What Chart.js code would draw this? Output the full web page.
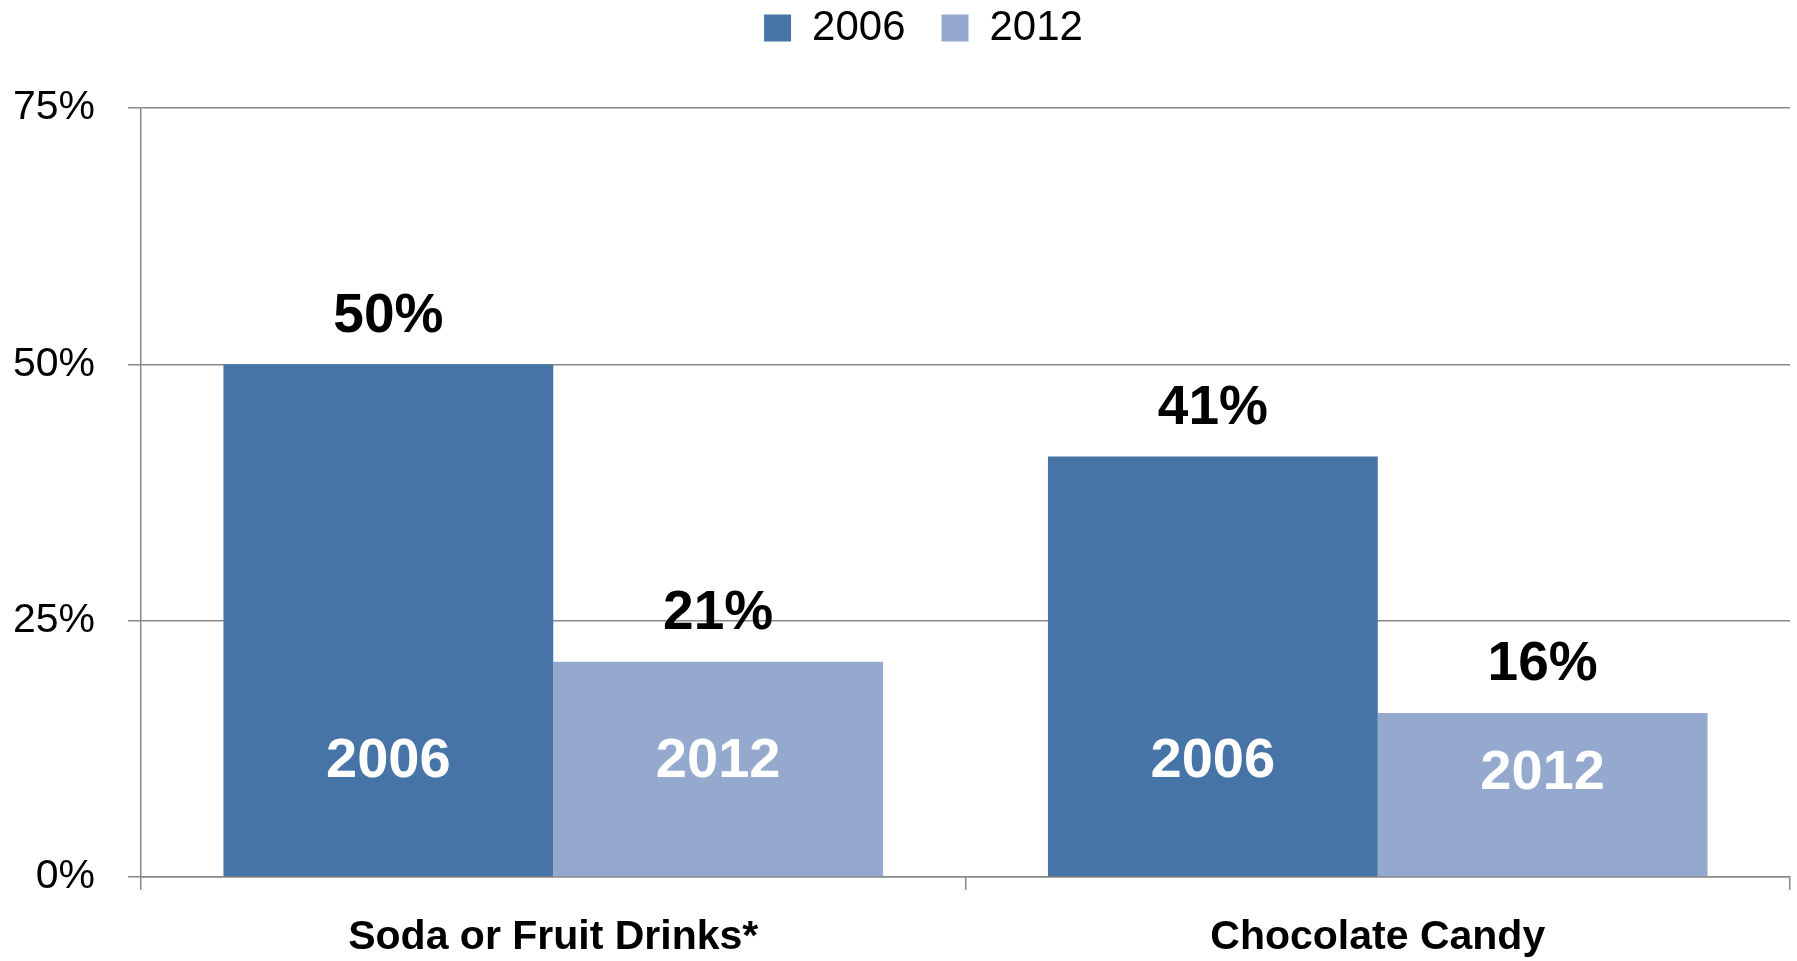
<!DOCTYPE html>
<html>
<head>
<meta charset="utf-8">
<title>Soda and candy, 2006 vs 2012</title>
<script src="https://cdn.jsdelivr.net/npm/chart.js@4/dist/chart.umd.min.js"></script>
<style>
	body { margin: 0; background: #fff; }
	canvas { display: block; }
</style>
</head>
<body>
<canvas id="myChart" width="1797" height="961"></canvas>
<script>
const categories = ['Soda or Fruit Drinks*', 'Chocolate Candy'];
const years = ['2006', '2012'];
const share2006 = [50, 41];
const share2012 = [21, 16];
const yTicks = [0, 25, 50, 75];

const colors = ['#4674a7', '#95a9cf'];
const fontFamily = '"Liberation Sans", Arial, sans-serif';
const gridColor = '#888888';

// extra room under the legend before the plot starts, and nudge it right a bit
const legendMargin = {
	id: 'legendMargin',
	beforeInit(chart) {
		const fit = chart.legend.fit;
		chart.legend.fit = function () {
			fit.bind(chart.legend)();
			this.height += 49;
		};
	},
	afterLayout(chart) {
		chart.legend.left += 22;
		chart.legend.right += 22;
	}
};

// value above each bar, series name inside near its base
const barLabels = {
	id: 'barLabels',
	afterDatasetsDraw(chart) {
		const ctx = chart.ctx;
		ctx.save();
		ctx.textAlign = 'center';
		ctx.textBaseline = 'middle';
		chart.data.datasets.forEach((ds, i) => {
			chart.getDatasetMeta(i).data.forEach((bar, j) => {
				ctx.fillStyle = '#000';
				ctx.font = 'bold 55px ' + fontFamily;
				ctx.fillText(ds.data[j] + '%', bar.x, bar.y - 48);

				ctx.fillStyle = '#fff';
				ctx.font = 'bold 56px ' + fontFamily;
				let y = Math.max(bar.base - 115, bar.y + 61);
				ctx.fillText(ds.label, bar.x, y);
			});
		});
		ctx.restore();
	}
};

let chartJson = {
	type: 'bar',
	data: {
		labels: categories,
		datasets: [{
			label: years[0],
			data: share2006,
			backgroundColor: colors[0]
		}, {
			label: years[1],
			data: share2012,
			backgroundColor: colors[1]
		}]
	},
	options: {
		responsive: false,
		animation: false,
		barPercentage: 1,
		categoryPercentage: 0.8,
		layout: {
			padding: { top: -29, left: 13, right: 7, bottom: 0 }
		},
		plugins: {
			legend: {
				position: 'top',
				labels: {
					boxWidth: 27,
					boxHeight: 27,
					padding: 36,
					color: '#000',
					font: { family: fontFamily, size: 42 }
				}
			},
			tooltip: { enabled: false }
		},
		scales: {
			x: {
				afterFit: axis => {
					axis.height = 84;
				},
				grid: {
					offset: true,
					drawOnChartArea: false,
					tickLength: 13,
					tickColor: gridColor,
					lineWidth: 1.5
				},
				border: { color: gridColor, width: 1.5 },
				ticks: {
					padding: 27,
					color: '#000',
					font: { family: fontFamily, size: 41, weight: 'bold', lineHeight: 1 }
				}
			},
			y: {
				min: yTicks[0],
				max: yTicks[yTicks.length - 1],
				afterFit: axis => {
					axis.width = 128;
				},
				grid: {
					color: gridColor,
					lineWidth: 1.5,
					tickLength: 13,
					tickColor: gridColor
				},
				border: { color: gridColor, width: 1.5 },
				ticks: {
					stepSize: yTicks[1] - yTicks[0],
					padding: 33,
					color: '#000',
					font: { family: fontFamily, size: 41 },
					callback: v => v + '%'
				}
			}
		}
	},
	plugins: [legendMargin, barLabels]
};

const ctx = document.getElementById('myChart');
const myChart = new Chart(ctx, chartJson);
</script>
</body>
</html>
